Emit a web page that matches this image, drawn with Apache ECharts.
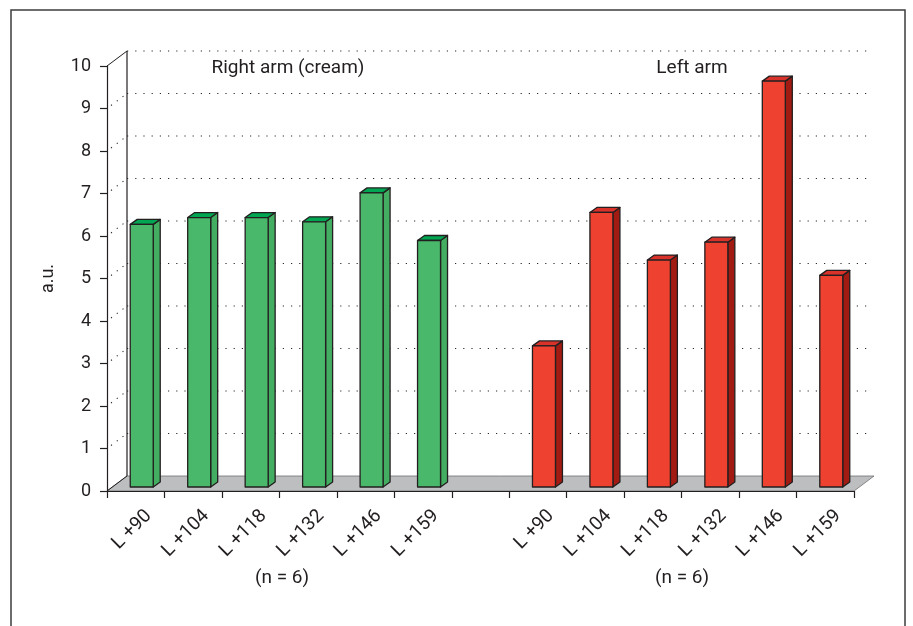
<!DOCTYPE html>
<html>
<head>
<meta charset="utf-8">
<title>Right arm vs left arm</title>
<script src="https://cdn.jsdelivr.net/npm/echarts@6/dist/echarts.min.js"></script>
<style>
  html, body { margin: 0; padding: 0; background: #ffffff; }
  #chart { width: 913px; height: 626px; }
</style>
</head>
<body>
<div id="chart"></div>
<script>
// Time points after launch, measured on each arm
const timepoints = ['L +90', 'L +104', 'L +118', 'L +132', 'L +146', 'L +159'];
const rightArm = [6.18, 6.34, 6.34, 6.24, 6.92, 5.80];
const leftArm  = [3.32, 6.46, 5.34, 5.76, 9.55, 4.98];
const groupTitles = ['Right arm (cream)', 'Left arm'];
const groupNotes = ['(n = 6)', '(n = 6)'];
const yMin = 0, yMax = 10, yStep = 1;

// one empty slot separates the two groups on the category axis
const categories = timepoints.concat([''], timepoints);
const leftStart = timepoints.length + 1;

const INK = '#231F20';
const FONT = 'Roboto';
const DEPTH = [20, -15];     // depth of the floor / back wall
const BAR_SHIFT = [6, -4];   // bars stand a little behind the front edge
const BAR_DEPTH = [7, -5];   // thickness of each bar

const rightData = rightArm.map((v, i) => [i, v]);
const leftData = leftArm.map((v, i) => [leftStart + i, v]);
const labelData = categories.map((c, i) => [i, 0, c]);

function renderBox(params, api) {
  const cs = params.coordSys;
  const x0 = cs.x, x1 = cs.x + cs.width;
  const dx = DEPTH[0], dy = DEPTH[1];
  const y0 = api.coord([0, yMin])[1];
  const yTop = api.coord([0, yMax])[1];
  const kids = [];
  // floor
  kids.push({
    type: 'polygon',
    shape: { points: [[x0, y0], [x1, y0], [x1 + dx, y0 + dy], [x0 + dx, y0 + dy]] },
    style: { fill: '#BCBEC0', stroke: '#6D6E71', lineWidth: 0.8 }
  });
  // grid lines on the back wall and on the left wall
  for (let v = yMin + yStep; v <= yMax + 1e-9; v += yStep) {
    const y = api.coord([0, v])[1];
    kids.push({
      type: 'line',
      shape: { x1: x0 + dx, y1: y + dy, x2: x1 + dx - 2, y2: y + dy },
      style: { stroke: '#2a2a2a', lineWidth: 1.1, lineDash: [1.2, 7] }
    });
    if (v < yMax - 1e-9) {
      kids.push({
        type: 'line',
        shape: { x1: x0 + 4, y1: y - 3, x2: x0 + dx, y2: y + dy },
        style: { stroke: '#2a2a2a', lineWidth: 1.1, lineDash: [1.2, 6] }
      });
    }
  }
  // back wall edge and the top of the left wall
  kids.push({
    type: 'line',
    shape: { x1: x0 + dx, y1: yTop + dy, x2: x0 + dx, y2: y0 + dy },
    style: { stroke: INK, lineWidth: 1.2 }
  });
  kids.push({
    type: 'line',
    shape: { x1: x0, y1: yTop, x2: x0 + dx, y2: yTop + dy },
    style: { stroke: INK, lineWidth: 1 }
  });
  kids.push({
    type: 'line',
    shape: { x1: x0, y1: y0, x2: x0 + dx, y2: y0 + dy },
    style: { stroke: INK, lineWidth: 1 }
  });
  return { type: 'group', children: kids };
}

function makeBarRenderer(front, top, side) {
  return function (params, api) {
    const idx = api.value(0);
    const val = api.value(1);
    const p = api.coord([idx, val]);
    const b = api.coord([idx, 0]);
    const w = api.size([1, 0])[0] * 0.4;
    const xl = p[0] - w / 2 + BAR_SHIFT[0];
    const xr = xl + w;
    const yt = p[1] + BAR_SHIFT[1];
    const yb = b[1] + BAR_SHIFT[1];
    const ddx = BAR_DEPTH[0], ddy = BAR_DEPTH[1];
    const line = { stroke: INK, lineWidth: 1.3, lineJoin: 'round' };
    return {
      type: 'group',
      children: [
        { type: 'polygon',
          shape: { points: [[xr, yt], [xr + ddx, yt + ddy], [xr + ddx, yb + ddy], [xr, yb]] },
          style: Object.assign({ fill: side }, line) },
        { type: 'polygon',
          shape: { points: [[xl, yt], [xr, yt], [xr + ddx, yt + ddy], [xl + ddx, yt + ddy]] },
          style: Object.assign({ fill: top }, line) },
        { type: 'rect',
          shape: { x: xl, y: yt, width: w, height: yb - yt },
          style: Object.assign({ fill: front }, line) }
      ]
    };
  };
}

function renderLabel(params, api) {
  const idx = api.value(0);
  const text = categories[idx];
  if (!text) return null;
  const p = api.coord([idx, 0]);
  return {
    type: 'text',
    x: p[0] + 13,
    y: p[1] + 22,
    rotation: Math.PI / 4,
    style: {
      text: text, fill: INK, font: '19px ' + FONT,
      align: 'right', verticalAlign: 'middle'
    }
  };
}

const chart = echarts.init(document.getElementById('chart'), null, { renderer: 'canvas' });

const textStyle = (t, x, y) => ({
  type: 'text', x: x, y: y,
  style: { text: t, font: '19px ' + FONT, fill: INK, align: 'center', verticalAlign: 'middle' }
});

const option = {
  backgroundColor: '#ffffff',
  animation: false,
  grid: { left: 107, right: 59, top: 66, bottom: 135, containLabel: false },
  xAxis: {
    type: 'category',
    data: categories,
    boundaryGap: true,
    z: 10,
    axisLine: { lineStyle: { color: INK, width: 1.2 } },
    axisTick: { show: true, length: 7, lineStyle: { color: INK, width: 1.2 } },
    axisLabel: { show: false },
    splitLine: { show: false }
  },
  yAxis: {
    type: 'value',
    min: yMin, max: yMax, interval: yStep,
    z: 10,
    name: 'a.u.',
    nameLocation: 'middle',
    nameRotate: 90,
    nameGap: 50,
    nameTextStyle: { color: INK, fontFamily: FONT, fontSize: 18 },
    axisLine: { show: true, lineStyle: { color: INK, width: 1.2 } },
    axisTick: { show: true, length: 7, lineStyle: { color: INK, width: 1.2 } },
    axisLabel: { color: INK, fontFamily: FONT, fontSize: 18, margin: 16 },
    splitLine: { show: false }
  },
  graphic: [
    { type: 'rect', shape: { x: 11, y: 10, width: 894, height: 640 },
      style: { fill: 'none', stroke: '#3d3d3d', lineWidth: 1.5 }, z: -1 },
    textStyle(groupTitles[0], 288, 68),
    textStyle(groupTitles[1], 692, 68),
    textStyle(groupNotes[0], 282, 578),
    textStyle(groupNotes[1], 682, 578)
  ],
  series: [
    { type: 'custom', name: 'frame', renderItem: renderBox, data: [[0, 0]], z: 1, silent: true },
    { type: 'custom', name: 'Right arm (cream)', renderItem: makeBarRenderer('#49B86A', '#00A651', '#43AE62'),
      data: rightData, encode: { x: 0, y: 1 }, z: 3 },
    { type: 'custom', name: 'Left arm', renderItem: makeBarRenderer('#EE4130', '#D9322A', '#A21B12'),
      data: leftData, encode: { x: 0, y: 1 }, z: 3 },
    { type: 'custom', name: 'labels', renderItem: renderLabel, data: labelData, encode: { x: 0, y: 1 }, z: 4, silent: true }
  ]
};

chart.setOption(option);
</script>
</body>
</html>
